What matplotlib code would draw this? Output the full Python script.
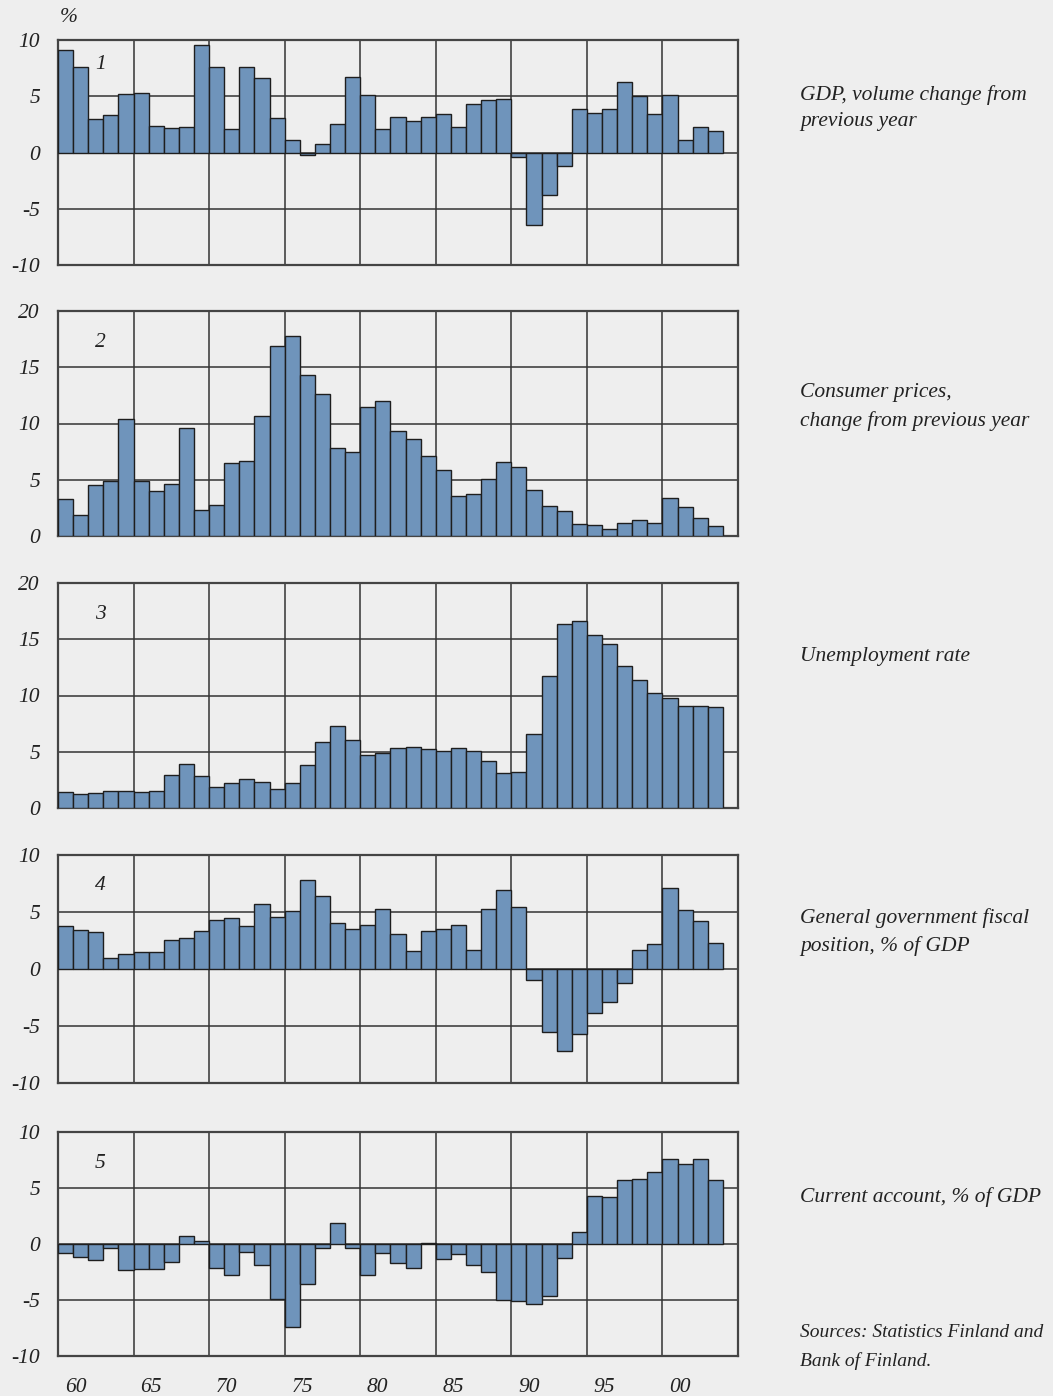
import matplotlib.pyplot as plt

# years covered by every panel
years = list(range(1960, 2004))

# 1: GDP, volume change from previous year
gdp = [9.1, 7.6, 3.0, 3.3, 5.2, 5.3, 2.4, 2.2, 2.3, 9.6,
       7.6, 2.1, 7.6, 6.6, 3.1, 1.1, -0.2, 0.8, 2.5, 6.7,
       5.1, 2.1, 3.2, 2.8, 3.2, 3.4, 2.3, 4.3, 4.7, 4.8,
       -0.4, -6.4, -3.8, -1.2, 3.9, 3.5, 3.9, 6.3, 5.0, 3.4,
       5.1, 1.1, 2.3, 1.9]

# 2: consumer prices, change from previous year
cpi = [3.3, 1.9, 4.5, 4.9, 10.4, 4.9, 4.0, 4.6, 9.6, 2.3,
       2.8, 6.5, 6.7, 10.7, 16.9, 17.8, 14.3, 12.6, 7.8, 7.5,
       11.5, 12.0, 9.3, 8.6, 7.1, 5.9, 3.6, 3.7, 5.1, 6.6,
       6.1, 4.1, 2.7, 2.2, 1.1, 1.0, 0.6, 1.2, 1.4, 1.2,
       3.4, 2.6, 1.6, 0.9]

# 3: unemployment rate
unemp = [1.45, 1.2, 1.3, 1.5, 1.55, 1.4, 1.55, 2.95, 3.95, 2.8,
         1.9, 2.25, 2.55, 2.35, 1.7, 2.25, 3.85, 5.9, 7.25, 6.0,
         4.7, 4.85, 5.35, 5.45, 5.2, 5.05, 5.35, 5.1, 4.2, 3.1,
         3.2, 6.6, 11.7, 16.4, 16.6, 15.4, 14.55, 12.65, 11.35, 10.2,
         9.8, 9.1, 9.1, 9.0]

# 4: general government fiscal position, % of GDP
fiscal = [3.8, 3.4, 3.25, 0.95, 1.3, 1.5, 1.45, 2.5, 2.75, 3.35,
          4.3, 4.45, 3.8, 5.7, 4.6, 5.1, 7.85, 6.4, 4.0, 3.55,
          3.85, 5.3, 3.1, 1.55, 3.3, 3.5, 3.9, 1.65, 5.3, 6.9,
          5.45, -1.0, -5.55, -7.2, -5.7, -3.85, -2.9, -1.25, 1.65, 2.15,
          7.1, 5.2, 4.25, 2.3]

# 5: current account, % of GDP
current = [-0.8, -1.15, -1.4, -0.35, -2.35, -2.25, -2.2, -1.6, 0.75, 0.3,
           -2.15, -2.8, -0.75, -1.85, -4.9, -7.4, -3.6, -0.35, 1.85, -0.35,
           -2.75, -0.8, -1.7, -2.1, 0.1, -1.35, -0.9, -1.9, -2.5, -5.0,
           -5.05, -5.35, -4.65, -1.25, 1.1, 4.25, 4.2, 5.7, 5.8, 6.4,
           7.6, 7.15, 7.6, 5.7]

series = [gdp, cpi, unemp, fiscal, current]
ylims = [(-10, 10), (0, 20), (0, 20), (-10, 10), (-10, 10)]
numbers = ["1", "2", "3", "4", "5"]
number_pos = [0.89, 0.86, 0.86, 0.865, 0.86]
labels = ["GDP, volume change from\nprevious year",
          "Consumer prices,\nchange from previous year",
          "Unemployment rate",
          "General government fiscal\nposition, % of GDP",
          "Current account, % of GDP"]
xtick_years = [1960, 1965, 1970, 1975, 1980, 1985, 1990, 1995, 2000]
xtick_labels = ["60", "65", "70", "75", "80", "85", "90", "95", "00"]

bg = "#eeeeee"
bar_color = "#6f94bb"
font = "Liberation Serif"

W, H = 1053, 1396
fig = plt.figure(figsize=(W / 100, H / 100), dpi=100, facecolor=bg)

# panel boxes in pixels: (top, bottom)
boxes = [(40, 265), (311, 536), (583, 808), (855, 1083), (1132, 1356)]
label_y = [108, 407, 657, 932, 1197]
left_px, right_px = 58, 738

for i, (vals, (top, bottom)) in enumerate(zip(series, boxes)):
    ax = fig.add_axes([left_px / W, 1 - bottom / H,
                       (right_px - left_px) / W, (bottom - top) / H])
    ax.set_facecolor(bg)
    ax.bar(years, vals, width=1, align="edge", color=bar_color,
           edgecolor="#1e1e1e", linewidth=1.0, zorder=3)
    ax.set_xlim(1960, 2005)
    ax.set_ylim(*ylims[i])
    lo, hi = ylims[i]
    ax.set_yticks(range(lo, hi + 1, 5))
    ax.set_yticklabels([str(v) for v in range(lo, hi + 1, 5)],
                       family=font, style="italic", fontsize=15.5, color="#222222")
    ax.set_xticks(range(1965, 2001, 5), minor=True)
    ax.grid(True, which="minor", axis="x", color="#333333", linewidth=1.1, zorder=1)
    ax.grid(True, which="major", axis="y", color="#333333", linewidth=1.1, zorder=1)
    ax.tick_params(axis="y", length=0, pad=13)
    ax.tick_params(axis="x", which="both", length=0)
    if i == len(series) - 1:
        ax.set_xticks([y + 1.15 for y in xtick_years])
        ax.set_xticklabels(xtick_labels, family=font, style="italic",
                           fontsize=15.5, color="#222222")
        ax.tick_params(axis="x", pad=16)
    else:
        ax.set_xticks([])
    for sp in ax.spines.values():
        sp.set_color("#444444")
        sp.set_linewidth(1.6)
    ax.text(1962.8, lo + (hi - lo) * number_pos[i], numbers[i], family=font,
            style="italic", fontsize=15.5, color="#222222", ha="center",
            va="center", zorder=4)
    fig.text(800 / W, 1 - label_y[i] / H, labels[i], family=font, style="italic",
             fontsize=15.5, color="#222222", ha="left", va="center", linespacing=1.55)

fig.text(60 / W, 1 - 18 / H, "%", family=font, style="italic", fontsize=15.5,
         color="#222222", ha="left", va="center")
fig.text(800 / W, 1 - 1347 / H, "Sources: Statistics Finland and\nBank of Finland.",
         family=font, style="italic", fontsize=14, color="#222222",
         ha="left", va="center", linespacing=1.75)

fig.savefig("out.png", dpi=100, facecolor=bg)
